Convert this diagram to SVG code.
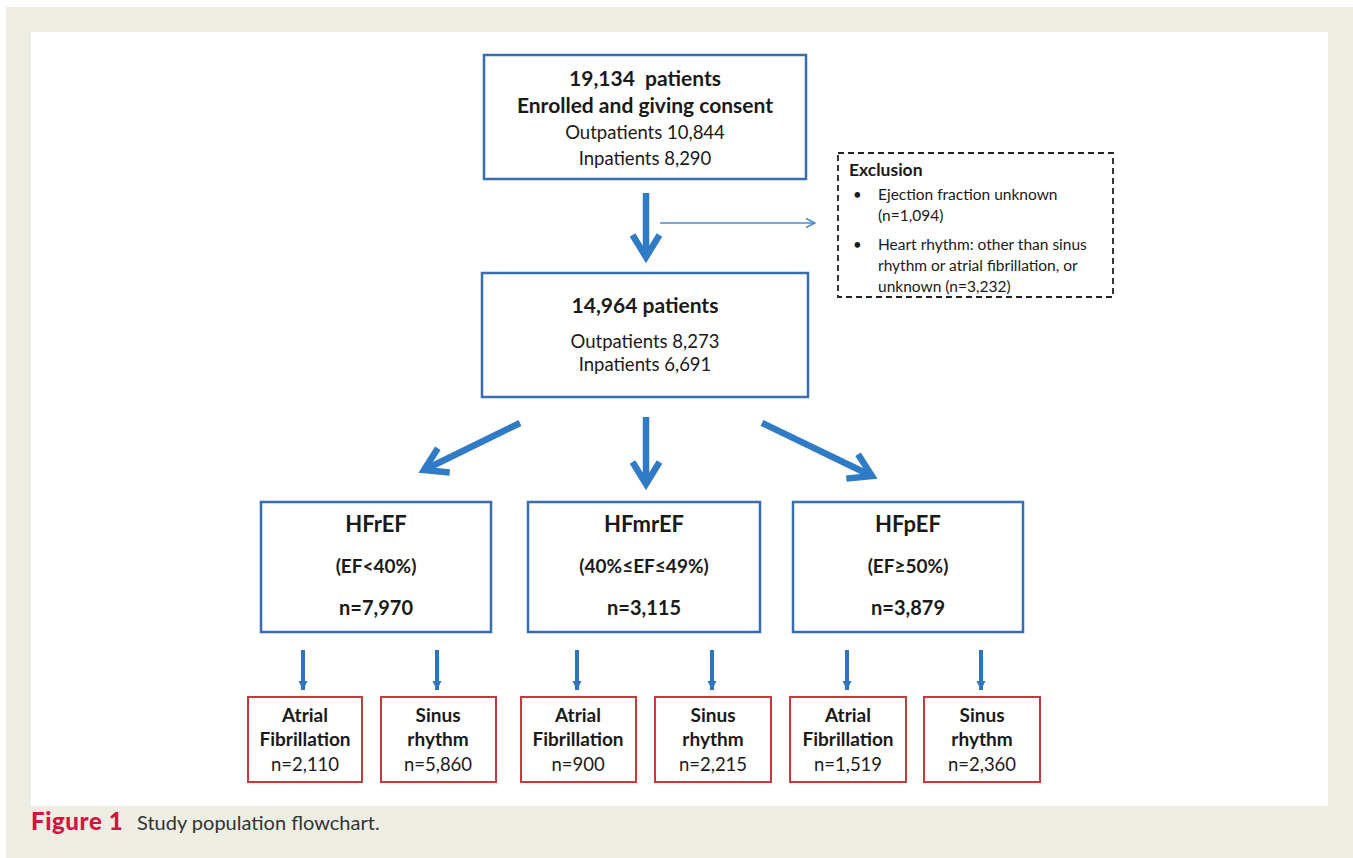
<svg xmlns="http://www.w3.org/2000/svg" width="1353" height="858" viewBox="0 0 1353 858">
<defs>
<style>
text{font-family:Lato,"Open Sans","Liberation Sans",sans-serif;fill:#1a1a1a;text-anchor:middle}
.b{font-weight:bold}
.l{text-anchor:start}
.bluebox{fill:#fff;stroke:#3a6db0;stroke-width:2.5}
.redbox{fill:#fff;stroke:#c8393b;stroke-width:2}
.big{stroke:#2f7bc6;stroke-width:6.5;fill:none}
.small{stroke:#2f74c0;stroke-width:4;fill:none}
.thin{stroke:#4a88cc;stroke-width:1.5;fill:none}
</style>
<marker id="chev" viewBox="0 0 36 36" refX="26" refY="18" markerWidth="36" markerHeight="36" markerUnits="userSpaceOnUse" orient="auto">
<path d="M4,4.5 L26,18 L4,31.5" fill="none" stroke="#2f7bc6" stroke-width="6.5"/>
</marker>
<marker id="tri" viewBox="0 0 10 10" refX="9" refY="5" markerWidth="10" markerHeight="10" markerUnits="userSpaceOnUse" orient="auto">
<path d="M0,0.5 L9,5 L0,9.5 Z" fill="#2f74c0"/>
</marker>
<marker id="open" viewBox="0 0 12 12" refX="11" refY="6" markerWidth="12" markerHeight="12" markerUnits="userSpaceOnUse" orient="auto">
<path d="M2,1.5 L11,6 L2,10.5" fill="none" stroke="#4a88cc" stroke-width="1.5"/>
</marker>
</defs>
<rect x="0" y="0" width="1353" height="858" fill="#ffffff"/>
<rect x="6" y="7" width="1347" height="851" fill="#edede3"/>
<rect x="31" y="32" width="1297" height="774" fill="#ffffff"/>

<g id="connectors">
<line class="big" x1="646" y1="193" x2="646" y2="257" marker-end="url(#chev)"/>
<line class="thin" x1="660" y1="223" x2="815" y2="223" marker-end="url(#open)"/>
<line class="big" x1="520" y1="423" x2="424" y2="470" marker-end="url(#chev)"/>
<line class="big" x1="646" y1="417" x2="646" y2="484" marker-end="url(#chev)"/>
<line class="big" x1="762" y1="423" x2="872" y2="476" marker-end="url(#chev)"/>
<line class="small" x1="303" y1="650" x2="303" y2="690" marker-end="url(#tri)"/>
<line class="small" x1="437" y1="650" x2="437" y2="690" marker-end="url(#tri)"/>
<line class="small" x1="577" y1="650" x2="577" y2="690" marker-end="url(#tri)"/>
<line class="small" x1="712" y1="650" x2="712" y2="690" marker-end="url(#tri)"/>
<line class="small" x1="847" y1="650" x2="847" y2="690" marker-end="url(#tri)"/>
<line class="small" x1="981" y1="650" x2="981" y2="690" marker-end="url(#tri)"/>
</g>

<g id="enrolled">
<rect class="bluebox" x="484" y="55" width="322" height="124"/>
<text class="b" x="645" y="86" font-size="21">19,134&#160; patients</text>
<text class="b" x="645" y="113" font-size="21">Enrolled and giving consent</text>
<text x="645" y="139" font-size="18.5">Outpatients 10,844</text>
<text x="645" y="165" font-size="18.5">Inpatients 8,290</text>
</g>

<g id="exclusion">
<rect x="838" y="153" width="275" height="144" fill="#fff" stroke="#222" stroke-width="1.8" stroke-dasharray="6,4"/>
<text class="b l" x="849" y="176" font-size="17.5">Exclusion</text>
<text class="l" x="853" y="200" font-size="15">•</text>
<text class="l" x="878" y="200" font-size="15.5">Ejection fraction unknown</text>
<text class="l" x="878" y="221" font-size="15.5">(n=1,094)</text>
<text class="l" x="853" y="250" font-size="15">•</text>
<text class="l" x="878" y="250" font-size="15.5">Heart rhythm: other than sinus</text>
<text class="l" x="878" y="271" font-size="15.5">rhythm or atrial fibrillation, or</text>
<text class="l" x="878" y="292" font-size="15.5">unknown (n=3,232)</text>
</g>

<g id="included">
<rect class="bluebox" x="482" y="273" width="326" height="124"/>
<text class="b" x="645" y="313" font-size="21">14,964 patients</text>
<text x="645" y="348" font-size="18.5">Outpatients 8,273</text>
<text x="645" y="371" font-size="18.5">Inpatients 6,691</text>
</g>

<g id="hfref">
<rect class="bluebox" x="261" y="502" width="230" height="130"/>
<text class="b" x="376" y="532" font-size="22">HFrEF</text>
<text class="b" x="376" y="573" font-size="19">(EF&lt;40%)</text>
<text class="b" x="376" y="615" font-size="20">n=7,970</text>
</g>

<g id="hfmref">
<rect class="bluebox" x="528" y="502" width="232" height="130"/>
<text class="b" x="644" y="532" font-size="22">HFmrEF</text>
<text class="b" x="644" y="573" font-size="19">(40%≤EF≤49%)</text>
<text class="b" x="644" y="615" font-size="20">n=3,115</text>
</g>

<g id="hfpef">
<rect class="bluebox" x="793" y="502" width="230" height="130"/>
<text class="b" x="908" y="532" font-size="22">HFpEF</text>
<text class="b" x="908" y="573" font-size="19">(EF≥50%)</text>
<text class="b" x="908" y="615" font-size="20">n=3,879</text>
</g>

<g id="af-hfref">
<rect class="redbox" x="248" y="697" width="114" height="85"/>
<text class="b" x="305" y="722" font-size="19">Atrial</text>
<text class="b" x="305" y="746" font-size="19">Fibrillation</text>
<text x="305" y="771" font-size="18.5">n=2,110</text>
</g>
<g id="sr-hfref">
<rect class="redbox" x="381" y="697" width="115" height="85"/>
<text class="b" x="438" y="722" font-size="19">Sinus</text>
<text class="b" x="438" y="746" font-size="19">rhythm</text>
<text x="438" y="771" font-size="18.5">n=5,860</text>
</g>
<g id="af-hfmref">
<rect class="redbox" x="521" y="697" width="115" height="85"/>
<text class="b" x="578" y="722" font-size="19">Atrial</text>
<text class="b" x="578" y="746" font-size="19">Fibrillation</text>
<text x="578" y="771" font-size="18.5">n=900</text>
</g>
<g id="sr-hfmref">
<rect class="redbox" x="655" y="697" width="116" height="85"/>
<text class="b" x="713" y="722" font-size="19">Sinus</text>
<text class="b" x="713" y="746" font-size="19">rhythm</text>
<text x="713" y="771" font-size="18.5">n=2,215</text>
</g>
<g id="af-hfpef">
<rect class="redbox" x="790" y="697" width="116" height="85"/>
<text class="b" x="848" y="722" font-size="19">Atrial</text>
<text class="b" x="848" y="746" font-size="19">Fibrillation</text>
<text x="848" y="771" font-size="18.5">n=1,519</text>
</g>
<g id="sr-hfpef">
<rect class="redbox" x="924" y="697" width="116" height="85"/>
<text class="b" x="982" y="722" font-size="19">Sinus</text>
<text class="b" x="982" y="746" font-size="19">rhythm</text>
<text x="982" y="771" font-size="18.5">n=2,360</text>
</g>

<g id="caption">
<text class="l" x="31" y="830" font-size="24" font-weight="900" letter-spacing="0.6" style="fill:#d4143f">Figure 1</text>
<text class="l" x="137" y="830" font-size="20" style="fill:#333">Study population flowchart.</text>
</g>
</svg>
